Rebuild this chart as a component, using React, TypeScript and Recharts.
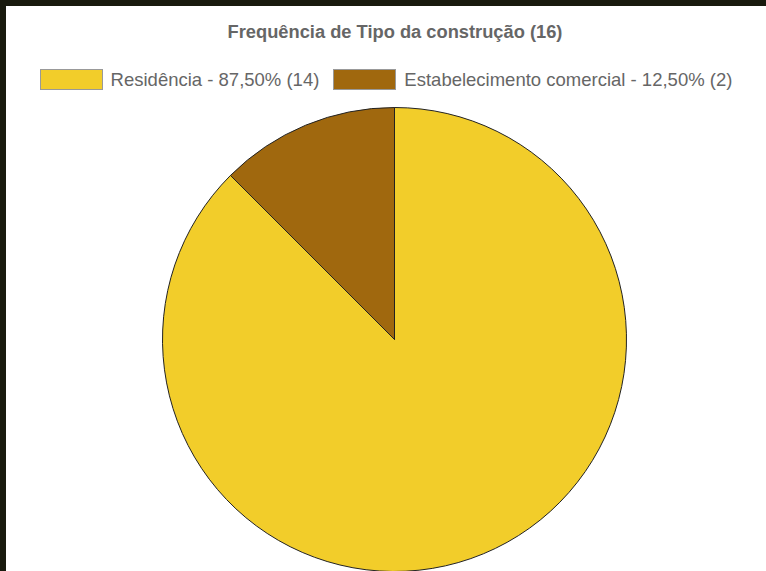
import { PieChart, Pie, Cell, Legend } from "recharts";

const categories = ["Residência", "Estabelecimento comercial"];
const counts = [14, 2];
const colors = ["#F2CD2A", "#A0680E"];

const total = counts.reduce((a, b) => a + b, 0);

const data = categories.map((name, i) => ({
  name,
  value: counts[i],
  label: `${name} - ${((counts[i] / total) * 100).toFixed(2).replace(".", ",")}% (${counts[i]})`,
}));

const font = "'Liberation Sans', Arial, sans-serif";

function LegendContent() {
  return (
    <div
      style={{
        display: "flex",
        justifyContent: "center",
        alignItems: "center",
        fontFamily: font,
        fontSize: 18.5,
        color: "#666",
        lineHeight: "21px",
      }}
    >
      {data.map((d, i) => (
        <div key={d.name} style={{ display: "flex", alignItems: "center", marginLeft: i === 0 ? 0 : 14 }}>
          <div
            style={{
              width: 63,
              height: 21,
              boxSizing: "border-box",
              border: "1px solid #999",
              background: colors[i],
              marginRight: 8,
            }}
          />
          <span style={{ whiteSpace: "nowrap" }}>{d.label}</span>
        </div>
      ))}
    </div>
  );
}

export default function App() {
  return (
    <div
      style={{
        position: "absolute",
        left: 0,
        top: 0,
        width: 766,
        height: 571,
        background: "#191a0e",
        overflow: "hidden",
      }}
    >
      <div
        style={{
          position: "absolute",
          left: 6,
          top: 6,
          width: 760,
          height: 565,
          background: "#fff",
        }}
      >
        <PieChart width={760} height={565}>
          <Legend
            verticalAlign="top"
            content={<LegendContent />}
            wrapperStyle={{ position: "absolute", top: 63, left: 0, width: 760 }}
          />
          <Pie
            data={data}
            dataKey="value"
            nameKey="name"
            cx={383.5}
            cy={307.5}
            outerRadius={232}
            innerRadius={0}
            startAngle={90}
            endAngle={-270}
            stroke="#222"
            strokeWidth={1}
            isAnimationActive={false}
            label={false}
            labelLine={false}
          >
            {data.map((d, i) => (
              <Cell key={d.name} fill={colors[i]} />
            ))}
          </Pie>
        </PieChart>
      </div>
      <div
        style={{
          position: "absolute",
          left: 0,
          top: 22.8,
          width: 790,
          textAlign: "center",
          fontFamily: font,
          fontSize: 18.3,
          fontWeight: "bold",
          lineHeight: "18px",
          color: "#666",
          whiteSpace: "nowrap",
        }}
      >
        Frequência de Tipo da construção (16)
      </div>
    </div>
  );
}
